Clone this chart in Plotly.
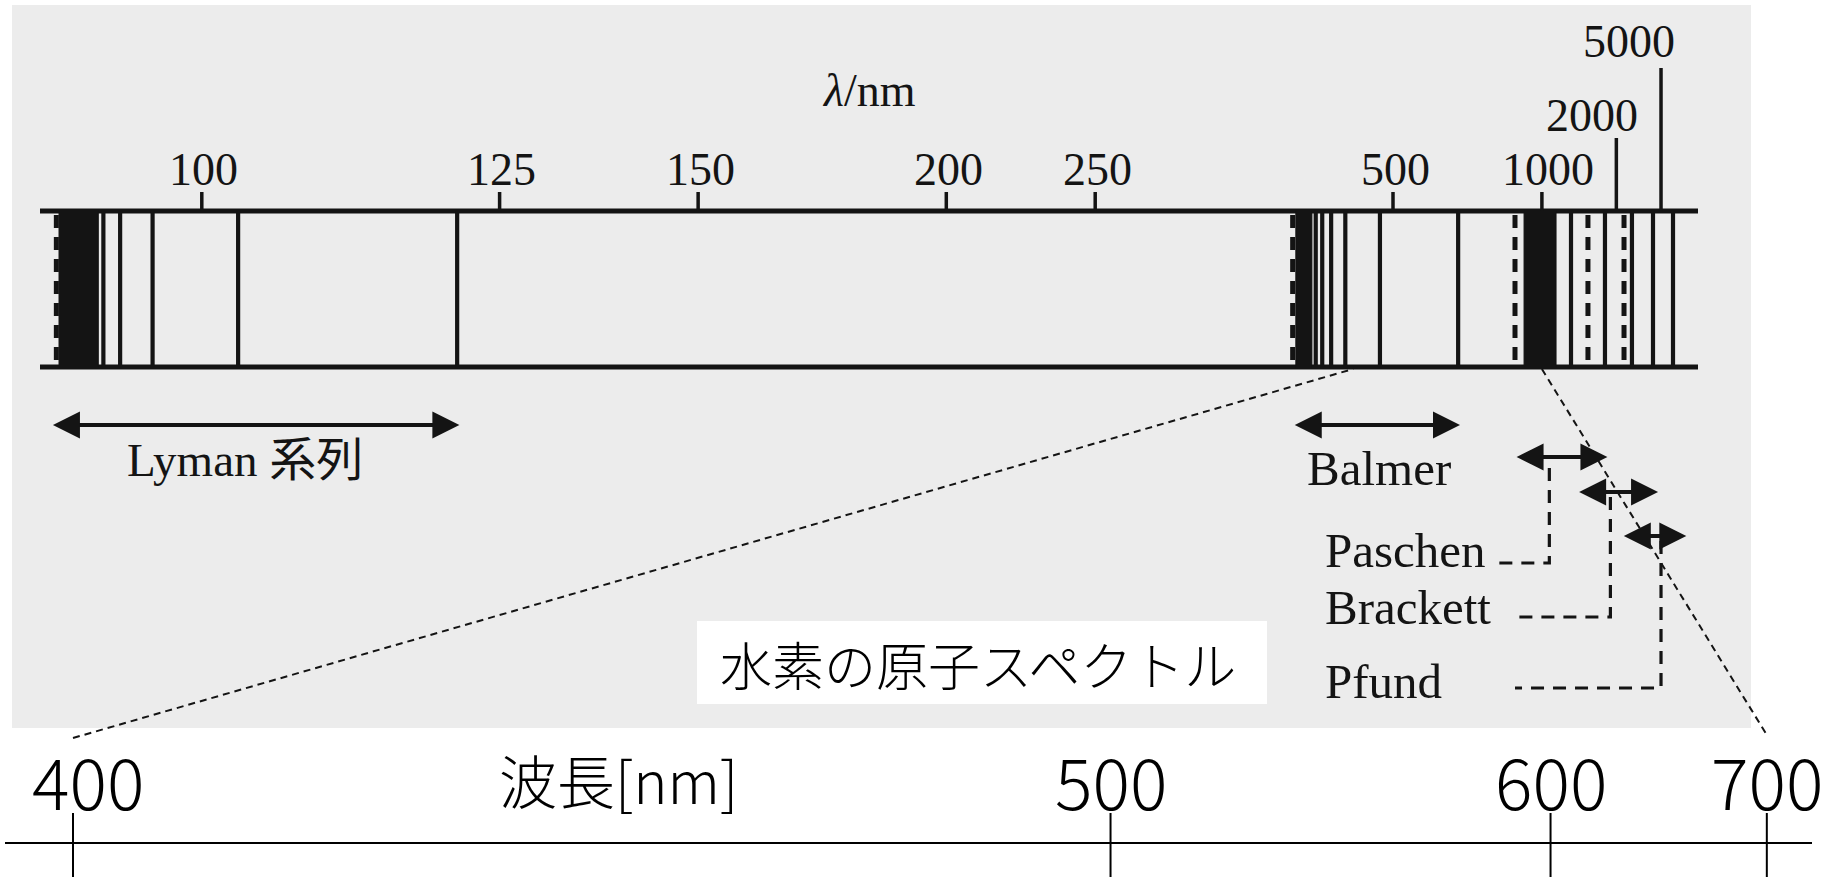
import plotly.graph_objects as go

W, H = 1843, 881

# ---------------- data (wavelengths in nm) ----------------
lyman_lines = [120.7, 102.5, 96.8, 94.8, 93.8]
lyman_dense = [91.25, 93.5]
lyman_limit = 91.1

balmer_lines = [640.0, 479.0, 431.0, 414.0, 404.0, 397.0]
balmer_dense = [377.0, 393.0]
balmer_limit = 374.0

paschen_lines = [1735.0, 1243.0]
paschen_dense = [893.0, 1105.0]
paschen_limit = 847.0

brackett_lines = [3940.0, 2530.0]
brackett_limit = 1448.0

pfund_lines = [8370.0]
pfund_limit = 2230.0

# series extents marked by double arrows, in wavenumber (1/um)
series_names = ["Lyman", "Balmer", "Paschen", "Brackett", "Pfund"]
series_span_inv_um = [(11.01, 8.27), (2.67, 1.55), (1.18, 0.56), (0.76, 0.22), (0.46, 0.03)]
bracket_inv_um = [0.95, 0.54, 0.20]

strip_ticks = [100, 125, 150, 200, 250, 500, 1000, 2000, 5000]
strip_tick_labels = ["100", "125", "150", "200", "250", "500", "1000", "2000", "5000"]

visible_ticks = [400, 500, 600, 700]
visible_tick_labels = ["400", "500", "600", "700"]

# visible window: where it sits on the strip and on the lower scale
zoom_top_nm = [441.0, 1000.0]
zoom_bottom_nm = [400.0, 700.0]

# ---------------- scales ----------------
INK = "#141414"
GRAY = "#ececec"
SERIF = "Liberation Serif, Noto Sans CJK JP, serif"
SANS = "Noto Sans CJK JP, Noto Sans, sans-serif"

NU_RANGE = [11.3553, -1.0222]      # upper strip: wavenumber 1/um, decreasing to the right
T_RANGE = [-0.03591, 0.87064]      # lower scale: compressed visible window


def nu(lam):
    return 1000.0 / lam


def t_vis(lam):
    return 1.0 - (lam / 400.0) ** -3.2


def px_of(v, rng):
    return (v - rng[0]) / (rng[1] - rng[0]) * W


def val_at(px, rng):
    return rng[0] + px / W * (rng[1] - rng[0])


BAND_TOP, BAND_BOT = 211, 367

fig = go.Figure()


def add_path(xs, ys, width, dash=None, axis="x", color=INK, fill=None):
    fig.add_trace(go.Scatter(
        x=xs, y=ys, mode="lines", xaxis=axis, yaxis="y",
        line=dict(color=color, width=width, dash=dash),
        fill=fill, fillcolor=color if fill else None,
        hoverinfo="skip", showlegend=False))


def verticals(values, y0, y1):
    xs, ys = [], []
    for v in values:
        xs += [v, v, None]
        ys += [y0, y1, None]
    return xs, ys


# strip frame
x_left, x_right = val_at(40, NU_RANGE), val_at(1698, NU_RANGE)
add_path([x_left, x_right, None, x_left, x_right], [BAND_TOP, BAND_TOP, None, BAND_BOT, BAND_BOT], 4.8)

# dense convergence regions
for lo, hi in [lyman_dense, balmer_dense, paschen_dense]:
    a, b = nu(lo), nu(hi)
    add_path([a, b, b, a, a], [BAND_BOT, BAND_BOT, BAND_TOP, BAND_TOP, BAND_BOT], 1, fill="toself")

# individual lines
all_lines = lyman_lines + balmer_lines + paschen_lines + brackett_lines + pfund_lines
xs, ys = verticals([nu(l) for l in all_lines], BAND_BOT, BAND_TOP)
add_path(xs, ys, 4.2)

# series limits (dashed)
limits = [lyman_limit, balmer_limit, paschen_limit, brackett_limit, pfund_limit]
xs, ys = verticals([nu(l) for l in limits], BAND_TOP + 4, BAND_BOT)
add_path(xs, ys, 5, dash="13px,9px")

# strip ticks
tick_top = {2000: 138, 5000: 68}
xs, ys = [], []
for tk in strip_ticks:
    xs += [nu(tk), nu(tk), None]
    ys += [tick_top.get(tk, 192), BAND_TOP, None]
add_path(xs, ys, 3.5)

annotations = []
label_shift = {1000: 6, 2000: -24, 5000: -32}
label_row = {2000: 115, 5000: 41}
for tk, txt in zip(strip_ticks, strip_tick_labels):
    annotations.append(dict(x=nu(tk), y=label_row.get(tk, 169), xref="x", yref="y", text=txt,
                            showarrow=False, xshift=label_shift.get(tk, 2),
                            font=dict(family=SERIF, size=46, color=INK)))

annotations.append(dict(x=869 / W, y=90, xref="paper", yref="y", text="<i>λ</i>/nm", showarrow=False,
                        font=dict(family=SERIF, size=46, color=INK)))

# series arrows
arrow_rows = [425, 425, 457, 492, 536]
for (a, b), row in zip(series_span_inv_um, arrow_rows):
    annotations.append(dict(x=b, y=row, ax=a, ay=row, xref="x", yref="y", axref="x", ayref="y",
                            text="", showarrow=True, arrowhead=2, arrowside="end+start",
                            arrowsize=1.35, arrowwidth=4, arrowcolor=INK, standoff=0, startstandoff=0))

# series labels
label_specs = [("Lyman 系列", 245, 460, "center", 47), ("Balmer", 1305, 468, "left", 49),
               ("Paschen", 1323, 550, "left", 49), ("Brackett", 1323, 607, "left", 49),
               ("Pfund", 1323, 681, "left", 49)]
for txt, px, row, anchor, size in label_specs:
    annotations.append(dict(x=px / W, y=row, xref="paper", yref="y", text=txt, showarrow=False,
                            xanchor=anchor, font=dict(family=SERIF, size=size, color=INK)))

# dashed brackets from labels to arrows
bracket_rows = [(468, 563, 1497), (497, 617, 1513), (541, 688, 1515)]
for bx, (r0, r1, end_px) in zip(bracket_inv_um, bracket_rows):
    add_path([bx, bx, val_at(end_px, NU_RANGE)], [r0, r1, r1], 3.2, dash="13px,9px")

# visible-window connectors
left_bottom = val_at(px_of(t_vis(zoom_bottom_nm[0]), T_RANGE), NU_RANGE)
right_bottom = val_at(px_of(t_vis(zoom_bottom_nm[1]), T_RANGE), NU_RANGE)
add_path([left_bottom, nu(zoom_top_nm[0])], [738, BAND_BOT + 2], 2, dash="7px,5px")
add_path([nu(zoom_top_nm[1]), right_bottom], [BAND_BOT + 2, 735], 2, dash="7px,5px")

# lower visible-wavelength scale
add_path([val_at(5, T_RANGE), val_at(1812, T_RANGE)], [843, 843], 2.2, axis="x2", color="#000000")
xs, ys = verticals([t_vis(l) for l in visible_ticks], 813, 877)
add_path(xs, ys, 2, axis="x2", color="#000000")
for i, (tk, txt) in enumerate(zip(visible_ticks, visible_tick_labels)):
    annotations.append(dict(x=t_vis(tk), y=779, xref="x2", yref="y", text=txt, showarrow=False,
                            xshift=15 if i == 0 else 0,
                            font=dict(family=SANS, size=70, color="#000000", weight=300)))
annotations.append(dict(x=497 / W, y=779, xref="paper", yref="y", text="波長[nm]", showarrow=False,
                        font=dict(family=SANS, size=58, color="#000000", weight=300)))

annotations.append(dict(x=718 / W, y=663, xref="paper", yref="y", text="水素の原子スペクトル",
                        showarrow=False, xanchor="left",
                        font=dict(family=SANS, size=52, color="#000000", weight=300)))

shapes = [
    dict(type="rect", xref="paper", yref="y", x0=12 / W, x1=1751 / W, y0=5, y1=728,
         fillcolor=GRAY, line=dict(width=0), layer="below"),
    dict(type="rect", xref="paper", yref="y", x0=697 / W, x1=1267 / W, y0=621, y1=704,
         fillcolor="#ffffff", line=dict(width=0), layer="below"),
]

fig.update_layout(
    width=W, height=H, margin=dict(l=0, r=0, t=0, b=0),
    paper_bgcolor="#ffffff", plot_bgcolor="rgba(0,0,0,0)",
    xaxis=dict(range=NU_RANGE, domain=[0, 1], visible=False, fixedrange=True),
    xaxis2=dict(range=T_RANGE, domain=[0, 1], visible=False, overlaying="x", anchor="y", fixedrange=True),
    yaxis=dict(range=[H, 0], domain=[0, 1], visible=False, fixedrange=True),
    annotations=annotations, shapes=shapes, showlegend=False,
)

fig.write_html("out.html", config={"displayModeBar": False})
